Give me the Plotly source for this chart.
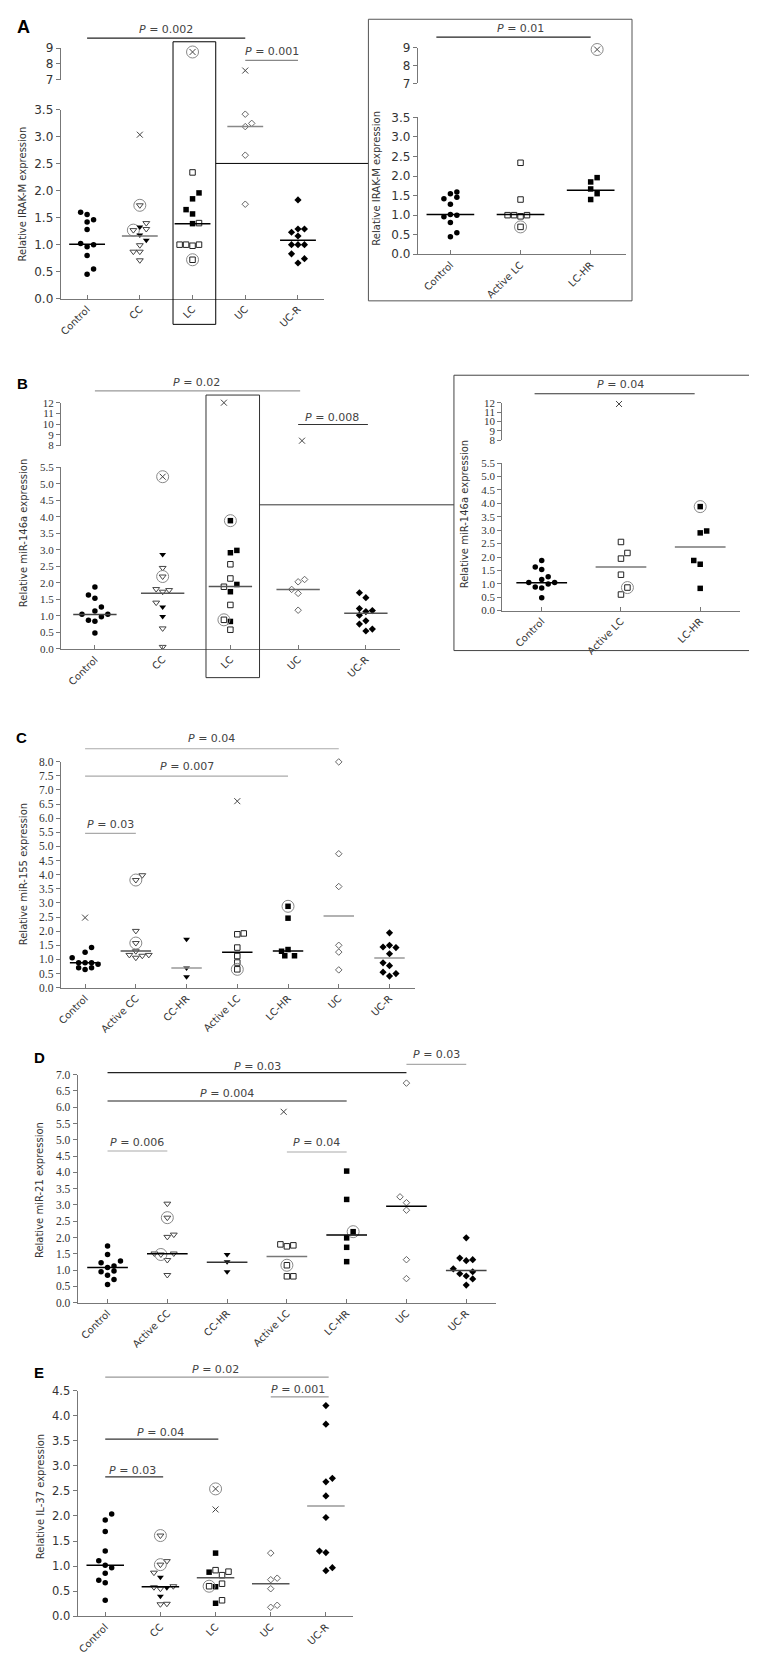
import plotly.graph_objects as go

# ======================= DATA =======================
# ---- Panel A (left): IRAK-M ----
A_cats = ["Control", "CC", "LC", "UC", "UC-R"]
A_ctrl = [1.60, 1.56, 1.42, 1.46, 1.28, 1.02, 0.96, 1.00, 0.80, 0.55, 0.45]
A_cc_x = [3.04]
A_cc_open = [1.40, 1.29, 0.99, 0.87, 0.87, 0.71]
A_cc_open_c = [1.73, 1.27]
A_cc_fill = [1.33, 1.18, 1.08]
A_lc_x_c = [8.75]
A_lc_open = [2.34, 1.40, 1.00, 1.00, 0.98, 1.00]
A_lc_open_c = [0.72]
A_lc_fill = [1.96, 1.85, 1.65, 1.57, 1.39]
A_uc_x = [7.58]
A_uc_open = [3.42, 3.25, 3.19, 2.66, 1.75]
A_ucr = [1.83, 1.23, 1.29, 1.29, 1.16, 1.00, 1.00, 1.00, 0.83, 0.74, 0.66]
A_medians = [1.01, 1.16, 1.39, 3.19, 1.08]
A_pvals = [(0, 3, "0.002"), (3, 4, "0.001")]

# ---- Panel A (inset) ----
Ai_cats = ["Control", "Active LC", "LC-HR"]
Ai_ctrl = [1.42, 1.55, 1.59, 1.46, 1.28, 0.96, 1.02, 1.00, 0.81, 0.55, 0.45]
Ai_alc_open = [2.34, 1.40, 1.00, 1.00, 0.97, 1.00]
Ai_alc_open_c = [0.70]
Ai_hr_x_c = [8.90]
Ai_hr_fill = [1.96, 1.85, 1.67, 1.55, 1.40]
Ai_medians = [1.02, 1.02, 1.64]
Ai_pvals = [(0, 2, "0.01")]

# ---- Panel B (left): miR-146a ----
B_cats = ["Control", "CC", "LC", "UC", "UC-R"]
B_ctrl = [1.87, 1.63, 1.53, 1.27, 1.15, 1.05, 0.87, 0.84, 0.97, 1.05, 0.48]
B_cc_x_c = [5.21]
B_cc_fill = [2.86, 1.27, 0.98]
B_cc_open = [2.45, 1.81, 1.73, 1.78, 1.40, 0.62, 0.06]
B_cc_open_c = [2.19]
B_lc_x = [12.0]
B_lc_fill_c = [3.88]
B_lc_fill = [2.98, 2.91, 1.95, 1.73, 0.83]
B_lc_open = [2.56, 2.13, 1.88, 1.33, 0.58]
B_lc_open_c = [0.88]
B_uc_x = [8.46]
B_uc_open = [2.10, 2.03, 1.80, 1.68, 1.17]
B_ucr = [1.70, 1.55, 1.22, 1.13, 1.16, 1.02, 0.85, 0.75, 0.54, 0.60]
B_medians = [1.04, 1.68, 1.89, 1.80, 1.08]
B_pvals = [(0, 3, "0.02"), (3, 4, "0.008")]

# ---- Panel B (inset) ----
Bi_cats = ["Control", "Active LC", "LC-HR"]
Bi_ctrl = [1.87, 1.63, 1.53, 1.26, 1.16, 1.05, 0.88, 0.84, 0.99, 1.05, 0.48]
Bi_alc_x = [11.86]
Bi_alc_open = [2.56, 2.15, 1.94, 1.34, 0.60]
Bi_alc_open_c = [0.86]
Bi_hr_fill_c = [3.88]
Bi_hr_fill = [2.97, 2.90, 1.87, 1.73, 0.83]
Bi_medians = [1.04, 1.63, 2.37]
Bi_pvals = [(0, 2, "0.04")]

# ---- Panel C: miR-155 ----
C_cats = ["Control", "Active CC", "CC-HR", "Active LC", "LC-HR", "UC", "UC-R"]
C_ctrl_x = [2.48]
C_ctrl = [1.42, 1.25, 1.06, 0.88, 0.88, 0.88, 0.83, 0.71, 0.71, 0.64]
C_acc_open = [3.98, 2.01, 1.29, 1.16, 1.06, 1.13, 1.16]
C_acc_open_c = [3.81, 1.58]
C_cchr_fill = [1.71, 0.70, 0.39]
C_alc_x = [6.60]
C_alc_open = [1.89, 1.92, 1.42, 1.12, 0.89]
C_alc_open_c = [0.65]
C_lchr_fill_c = [2.88]
C_lchr_fill = [2.46, 1.29, 1.35, 1.13, 1.13]
C_uc_open = [7.99, 4.74, 3.58, 1.50, 1.26, 0.63]
C_ucr = [1.94, 1.44, 1.50, 1.42, 1.20, 0.88, 0.78, 0.55, 0.50, 0.41]
C_medians = [0.88, 1.30, 0.70, 1.25, 1.30, 2.54, 1.05]
C_pvals = [(0, 5, "0.04"), (0, 4, "0.007"), (0, 1, "0.03")]

# ---- Panel D: miR-21 ----
D_cats = ["Control", "Active CC", "CC-HR", "Active LC", "LC-HR", "UC", "UC-R"]
D_ctrl = [1.74, 1.48, 1.23, 1.13, 1.28, 1.08, 0.95, 0.97, 0.84, 0.71, 0.56]
D_acc_open = [3.04, 2.02, 2.09, 1.51, 1.51, 1.31, 0.85]
D_acc_open_c = [2.61, 1.48]
D_cchr_fill = [1.48, 1.26, 0.95]
D_alc_x = [5.86]
D_alc_open = [1.79, 1.73, 1.76, 0.81, 0.81]
D_alc_open_c = [1.15]
D_lchr_fill = [4.04, 3.17, 1.99, 1.70, 1.26]
D_lchr_fill_c = [2.18]
D_uc_open = [6.74, 3.25, 3.07, 2.84, 1.32, 0.74]
D_ucr = [1.99, 1.37, 1.29, 1.32, 1.04, 0.89, 0.82, 0.95, 0.73, 0.54]
D_medians = [1.08, 1.50, 1.24, 1.42, 2.08, 2.96, 0.99]
D_pvals = [(0, 5, "0.03"), (0, 4, "0.004"), (0, 1, "0.006"), (3, 4, "0.04"), (5, 6, "0.03")]

# ---- Panel E: IL-37 ----
E_cats = ["Control", "CC", "LC", "UC", "UC-R"]
E_ctrl = [2.04, 1.92, 1.69, 1.30, 1.11, 1.02, 0.97, 0.86, 0.72, 0.67, 0.32]
E_cc_open = [1.10, 0.87, 0.58, 0.55, 0.60, 0.24, 0.25]
E_cc_open_c = [1.61, 1.03]
E_cc_fill = [0.78, 0.57, 0.40]
E_lc_x_c = [2.54]
E_lc_x = [2.13]
E_lc_fill = [1.26, 0.88, 0.59, 0.26]
E_lc_open = [0.92, 0.82, 0.89, 0.65, 0.32]
E_lc_open_c = [0.60]
E_uc_open = [1.26, 0.73, 0.76, 0.55, 0.18, 0.22]
E_ucr = [4.20, 3.83, 2.75, 2.68, 2.40, 1.97, 1.30, 1.27, 0.91, 0.97]
E_medians = [1.02, 0.59, 0.77, 0.65, 2.20]
E_pvals = [(0, 4, "0.02"), (3, 4, "0.001"), (0, 2, "0.04"), (0, 1, "0.03")]

# ======================= LAYOUT / STYLE =======================
W, H = 757, 1653
def fx(p): return p / W
def fy(p): return 1 - p / H

AXC = "#777"
TXT = "#333"
SANS = "DejaVu Sans"
SERIF = "Liberation Serif"
CATFONT = dict(family=SANS, size=10, color=TXT)

MK = {
    "fc": dict(symbol="circle", size=5.5, color="black"),
    "x": dict(symbol="x-thin-open", size=6, color="#444", line=dict(color="#444", width=1)),
    "ot": dict(symbol="triangle-down-open", size=6, color="#444", line=dict(color="#444", width=1)),
    "ft": dict(symbol="triangle-down", size=6, color="black"),
    "os": dict(symbol="square-open", size=5.5, color="#222", line=dict(color="#222", width=1)),
    "fs": dict(symbol="square", size=5.5, color="black"),
    "od": dict(symbol="diamond-open", size=5, color="#666", line=dict(color="#666", width=1)),
    "fd": dict(symbol="diamond", size=5.5, color="black"),
}
CIRC = dict(symbol="circle-open", size=12, color="#888", line=dict(color="#888", width=1))

fig = go.Figure()
layout = {}
shapes = []
annots = []
axn = [0]

def add_pair(xpx, ypx_bot, ypx_top, xr, yr, yticks, yfmt, yfont, cats=None, show_x=True):
    axn[0] += 1
    i = axn[0]
    xk, yk = ("xaxis", "yaxis") if i == 1 else (f"xaxis{i}", f"yaxis{i}")
    xid, yid = ("x", "y") if i == 1 else (f"x{i}", f"y{i}")
    xa = dict(domain=[fx(xpx[0]), fx(xpx[1])], range=xr, anchor=yid,
              showgrid=False, zeroline=False, fixedrange=True)
    if show_x:
        xa.update(showline=True, linecolor=AXC, linewidth=1, ticks="inside", ticklen=4,
                  tickcolor=AXC, tickvals=list(range(len(cats))), ticktext=cats,
                  tickangle=-45, tickfont=CATFONT)
    else:
        xa.update(visible=False)
    ya = dict(domain=[fy(ypx_bot), fy(ypx_top)], range=yr, anchor=xid,
              showline=True, linecolor=AXC, linewidth=1, ticks="outside", ticklen=4,
              tickcolor=AXC, tickvals=yticks, ticktext=[yfmt.format(v) for v in yticks],
              tickfont=yfont, showgrid=False, zeroline=False, fixedrange=True)
    layout[xk] = xa
    layout[yk] = ya
    return xid, yid

def halves(a, b, s):
    out = []
    v = a
    while v <= b + 1e-9:
        out.append(round(v, 2))
        v += s
    return out

def draw(series, medians, mcols, low, spacing_px, hw, up=None, brk=None, mw=1.5):
    slot = 6.5 / spacing_px
    for cat, kind, vals, dx, circ in series:
        groups = {"low": ([], []), "up": ([], [])}
        for v, d in zip(vals, dx):
            key = "up" if (brk is not None and v >= brk) else "low"
            groups[key][0].append(cat + d * slot)
            groups[key][1].append(v)
        for key, (xs, ys) in groups.items():
            if not xs:
                continue
            xa, ya = low if key == "low" else up
            fig.add_trace(go.Scatter(x=xs, y=ys, xaxis=xa, yaxis=ya, mode="markers",
                                     marker=MK[kind], cliponaxis=False,
                                     showlegend=False, hoverinfo="skip"))
            if circ:
                fig.add_trace(go.Scatter(x=xs, y=ys, xaxis=xa, yaxis=ya, mode="markers",
                                         marker=CIRC, cliponaxis=False,
                                         showlegend=False, hoverinfo="skip"))
    for c, (m, col) in enumerate(zip(medians, mcols)):
        fig.add_trace(go.Scatter(x=[c - hw, c + hw], y=[m, m], xaxis=low[0], yaxis=low[1],
                                 mode="lines", line=dict(color=col, width=mw),
                                 cliponaxis=False, showlegend=False, hoverinfo="skip"))

def pmarks(pvals, xid, ys_line, ys_text, cols, dx0=0.0, dx1=0.0):
    for (i, j, lab), yl, yt, col in zip(pvals, ys_line, ys_text, cols):
        shapes.append(dict(type="line", xref=xid, yref="paper", x0=i + dx0, x1=j + dx1,
                           y0=fy(yl), y1=fy(yl), line=dict(color=col, width=1.2)))
        annots.append(dict(xref=xid, yref="paper", x=(i + j) / 2, y=fy(yt),
                           text="<i>P</i> = " + lab, showarrow=False, xanchor="center",
                           yanchor="middle", font=dict(family=SANS, size=11, color="#444")))

def ytitle(text, x, y, size=10):
    annots.append(dict(xref="paper", yref="paper", x=fx(x), y=fy(y), text=text,
                       textangle=-90, showarrow=False, xanchor="center", yanchor="middle",
                       font=dict(family=SANS, size=size, color=TXT)))

def letter(t, x, y, size=15):
    annots.append(dict(xref="paper", yref="paper", x=fx(x), y=fy(y), text="<b>" + t + "</b>",
                       showarrow=False, xanchor="center", yanchor="middle",
                       font=dict(family="Liberation Sans", size=size, color="black")))

fA = dict(family=SANS, size=12, color=TXT)
fB = dict(family=SERIF, size=11, color=TXT)
fC = dict(family=SERIF, size=11.5, color=TXT)
fE = dict(family=SANS, size=11.5, color=TXT)

# ---------------- Panel A left ----------------
aL = add_pair((49, 314), 286, 95.7, [-0.5, 4.5], [0, 3.5], halves(0, 3.5, 0.5), "{:.1f}", fA, A_cats)
aU = add_pair((49, 314), 65.3, 33.3, [-0.5, 4.5], [7, 9], [7, 8, 9], "{:.0f}", fA, show_x=False)
A_series = [
    (0, "fc", A_ctrl, [-1, 0, 0, 1, 0, -1, 0, 1, 0, 1, 0], False),
    (1, "x", A_cc_x, [0], False),
    (1, "ot", A_cc_open, [1, 1, 0, -1, 0, 0], False),
    (1, "ot", A_cc_open_c, [0, -1], True),
    (1, "ft", A_cc_fill, [0, 0, 1], False),
    (2, "x", A_lc_x_c, [0], True),
    (2, "os", A_lc_open, [0, 1, -2, -1, 0, 1], False),
    (2, "os", A_lc_open_c, [0], True),
    (2, "fs", A_lc_fill, [1, 0, -1, 0, 0], False),
    (3, "x", A_uc_x, [0], False),
    (3, "od", A_uc_open, [0, 1, 0, 0, 0], False),
    (4, "fd", A_ucr, [0, -1, 0, 1, 0, -1, 0, 1, -1, 1, 0], False),
]
draw(A_series, A_medians, ["black", "#777", "black", "#888", "black"], aL, 53, 0.34, aU, 6)
pmarks(A_pvals, aL[0], [23.3, 45.7], [15, 36.7], ["#222", "#888"])
shapes.append(dict(type="rect", xref=aL[0], yref="paper", x0=2 - 0.37, x1=2 + 0.44,
                   y0=fy(312), y1=fy(27), line=dict(color="black", width=1)))
shapes.append(dict(type="line", xref="paper", yref="paper", x0=fx(205), x1=fx(358.3),
                   y0=fy(149.7), y1=fy(149.7), line=dict(color="black", width=1)))
ytitle("Relative IRAK-M expression", 11, 180)
letter("A", 11.5, 12, 18)

# ---------------- Panel A inset ----------------
shapes.append(dict(type="rect", xref="paper", yref="paper", x0=fx(358.3), x1=fx(623.3),
                   y0=fy(288.3), y1=fy(4.3), line=dict(color="#555", width=1)))
iL = add_pair((408, 617), 241.3, 103.3, [-0.464, 2.5], [0, 3.5], halves(0, 3.5, 0.5), "{:.1f}", fA, Ai_cats)
iU = add_pair((408, 617), 69, 33, [-0.464, 2.5], [7, 9], [7, 8, 9], "{:.0f}", fA, show_x=False)
Ai_series = [
    (0, "fc", Ai_ctrl, [-1, 0, 1, 1, 0, -1, 0, 1, 0, 1, 0], False),
    (1, "os", Ai_alc_open, [0, 0, -2, -1, 0, 1], False),
    (1, "os", Ai_alc_open_c, [0], True),
    (2, "x", Ai_hr_x_c, [1], True),
    (2, "fs", Ai_hr_fill, [1, 0, 0, 1, 0], False),
]
draw(Ai_series, Ai_medians, ["black", "black", "black"], iL, 70.5, 0.34, iU, 6)
pmarks(Ai_pvals, iL[0], [22.3], [14], ["#222"], dx0=-0.2)
ytitle("Relative IRAK-M expression", 367, 165)

# ---------------- Panel B left ----------------
bL = add_pair((49.3, 389.8), 639.3, 456, [-0.5, 4.5], [0, 5.5], halves(0, 5.5, 0.5), "{:.1f}", fB, B_cats)
bU = add_pair((49.3, 389.8), 434.3, 391, [-0.5, 4.5], [8, 12], [8, 9, 10, 11, 12], "{:.0f}", fB, show_x=False)
B_series = [
    (0, "fc", B_ctrl, [0, -1, 0, 1, 0, -2, -1, 0, 1, 2, 0], False),
    (1, "x", B_cc_x_c, [0], True),
    (1, "ft", B_cc_fill, [0, 0, 0], False),
    (1, "ot", B_cc_open, [0, -1, 0, 1, -1, 0, 0], False),
    (1, "ot", B_cc_open_c, [0], True),
    (2, "x", B_lc_x, [-1], False),
    (2, "fs", B_lc_fill_c, [0], True),
    (2, "fs", B_lc_fill, [1, 0, 1, 0, 0], False),
    (2, "os", B_lc_open, [0, 0, -1, 0, 0], False),
    (2, "os", B_lc_open_c, [-1], True),
    (3, "x", B_uc_x, [0.6], False),
    (3, "od", B_uc_open, [1, 0, -1, 0, 0], False),
    (4, "fd", B_ucr, [-1, 0, -1, 0, 1, -1, 0, -1, 0, 1], False),
]
draw(B_series, B_medians, ["#444", "#555", "#555", "#666", "#555"], bL, 68.1, 0.32, bU, 7)
pmarks(B_pvals, bL[0], [379, 413], [371, 406], ["#999", "#333"], dx1=0.03)
shapes.append(dict(type="rect", xref=bL[0], yref="paper", x0=2 - 0.36, x1=2 + 0.43,
                   y0=fy(668.3), y1=fy(383.3), line=dict(color="#333", width=1)))
shapes.append(dict(type="line", xref="paper", yref="paper", x0=fx(248.3), x1=fx(444.3),
                   y0=fy(494), y1=fy(494), line=dict(color="#333", width=1)))
ytitle("Relative miR-146a expression", 11, 521.7)
letter("B", 10.5, 372)

# ---------------- Panel B inset ----------------
shapes.append(dict(type="rect", xref="paper", yref="paper", x0=fx(444.3), x1=fx(743.3),
                   y0=fy(641), y1=fy(363.3), line=dict(color="#444", width=1)))
jL = add_pair((492.7, 731.7), 600.7, 452, [-0.5, 2.5], [0, 5.5], halves(0, 5.5, 0.5), "{:.1f}", fB, Bi_cats)
jU = add_pair((492.7, 731.7), 428.7, 391, [-0.5, 2.5], [8, 12], [8, 9, 10, 11, 12], "{:.0f}", fB, show_x=False)
Bi_series = [
    (0, "fc", Bi_ctrl, [0, -1, 0, 1, 0, -2, -1, 0, 1, 2, 0], False),
    (1, "x", Bi_alc_x, [-0.3], False),
    (1, "os", Bi_alc_open, [0, 1, 0, 0, 0], False),
    (1, "os", Bi_alc_open_c, [1], True),
    (2, "fs", Bi_hr_fill_c, [0], True),
    (2, "fs", Bi_hr_fill, [1, 0, -1, 0, 0], False),
]
draw(Bi_series, Bi_medians, ["black", "#777", "#777"], jL, 79.7, 0.32, jU, 7)
pmarks(Bi_pvals, jL[0], [382], [372.7], ["#333"], dx0=-0.09, dx1=-0.07)
ytitle("Relative miR-146a expression", 455, 503)

# ---------------- Panel C ----------------
cL = add_pair((49, 405), 981, 753, [-0.48, 6.5], [0, 8], halves(0, 8, 0.5), "{:.1f}", fC, C_cats)
C_series = [
    (0, "x", C_ctrl_x, [0], False),
    (0, "fc", C_ctrl, [1, 0, -2, -1, 0, 1, 2, -1, 1, 0], False),
    (1, "ot", C_acc_open, [1, 0, 0, -1, 0, 1, 2], False),
    (1, "ot", C_acc_open_c, [0, 0], True),
    (2, "ft", C_cchr_fill, [0, 0, 0], False),
    (3, "x", C_alc_x, [0], False),
    (3, "os", C_alc_open, [0, 1, 0, 0, 0], False),
    (3, "os", C_alc_open_c, [0], True),
    (4, "fs", C_lchr_fill_c, [0], True),
    (4, "fs", C_lchr_fill, [0, -1, 0, -0.5, 1], False),
    (5, "od", C_uc_open, [0, 0, 0, 0, 0, 0], False),
    (6, "fd", C_ucr, [0, -1, 0, 1, 0, -1, 0, -1, 1, 0], False),
]
draw(C_series, C_medians, ["black", "#555", "#999", "black", "black", "#999", "#999"], cL, 51, 0.3)
pmarks(C_pvals, cL[0], [740, 767.7, 825.3], [729.3, 757.7, 816], ["#aaa", "#aaa", "#aaa"])
ytitle("Relative miR-155 expression", 11, 866.7)
letter("C", 10, 728.5)

# ---------------- Panel D ----------------
dL = add_pair((66, 486.7), 1298.7, 1068.7, [-0.5, 6.5], [0, 7], halves(0, 7, 0.5), "{:.1f}", fC, D_cats)
D_series = [
    (0, "fc", D_ctrl, [0, 0, -1, 1, 2, 0, -1, 1, 0, 1, 0], False),
    (1, "ot", D_acc_open, [0, 0, 1, -2, 1, 0, 0], False),
    (1, "ot", D_acc_open_c, [0, -1], True),
    (2, "ft", D_cchr_fill, [0, 0, 0], False),
    (3, "x", D_alc_x, [-0.5], False),
    (3, "os", D_alc_open, [-1, 0, 1, 0, 1], False),
    (3, "os", D_alc_open_c, [0], True),
    (4, "fs", D_lchr_fill, [0, 0, 0, 0, 0], False),
    (4, "fs", D_lchr_fill_c, [1], True),
    (5, "od", D_uc_open, [0, -1, 0, 0, 0, 0], False),
    (6, "fd", D_ucr, [0, -1, 0, 1, -2, -1, 0, 1, 1, 0], False),
]
draw(D_series, D_medians, ["black", "black", "#333", "#777", "black", "black", "#444"], dL, 60.1, 0.34)
pmarks(D_pvals, dL[0], [1066.7, 1095.3, 1145.7, 1146.7, 1058.3],
       [1060, 1087.3, 1137, 1137, 1048.3], ["#222", "#222", "#aaa", "#aaa", "#aaa"])
ytitle("Relative miR-21 expression", 28.3, 1185)
letter("D", 28, 1051.5)

# ---------------- Panel E ----------------
eL = add_pair((66, 343.3), 1615, 1387.3, [-0.5, 4.5], [0, 4.5], halves(0, 4.5, 0.5), "{:.1f}", fE, E_cats)
E_series = [
    (0, "fc", E_ctrl, [1, 0, 0, 0, -1, 0, 1, 0, -1, 0, 0], False),
    (1, "ot", E_cc_open, [1, -1, -1, 0, 2, 0, 1], False),
    (1, "ot", E_cc_open_c, [0, 0], True),
    (1, "ft", E_cc_fill, [0, 1, 0], False),
    (2, "x", E_lc_x_c, [0], True),
    (2, "x", E_lc_x, [0], False),
    (2, "fs", E_lc_fill, [0, -1, 0, 0], False),
    (2, "os", E_lc_open, [0, 1, 2, 1, 1], False),
    (2, "os", E_lc_open_c, [-1], True),
    (3, "od", E_uc_open, [0, 0, 1, 0, 0, 1], False),
    (4, "fd", E_ucr, [0, 0, 1, 0, 0, 0, -1, 0, 0, 1], False),
]
draw(E_series, E_medians, ["black", "black", "#555", "#555", "#999"], eL, 55.5, 0.34)
pmarks(E_pvals, eL[0], [1373.7, 1393.7, 1436.3, 1474.3], [1366, 1386.7, 1429.3, 1467.7],
       ["#999", "#999", "#333", "#333"], dx1=0.05)
ytitle("Relative IL-37 expression", 28.3, 1494.7)
letter("E", 27, 1369)

fig.update_layout(width=W, height=H, margin=dict(l=0, r=0, t=0, b=0),
                  paper_bgcolor="white", plot_bgcolor="white",
                  font=dict(family=SANS, size=10, color=TXT),
                  shapes=shapes, annotations=annots, showlegend=False, **layout)
fig.write_html("out.html")
